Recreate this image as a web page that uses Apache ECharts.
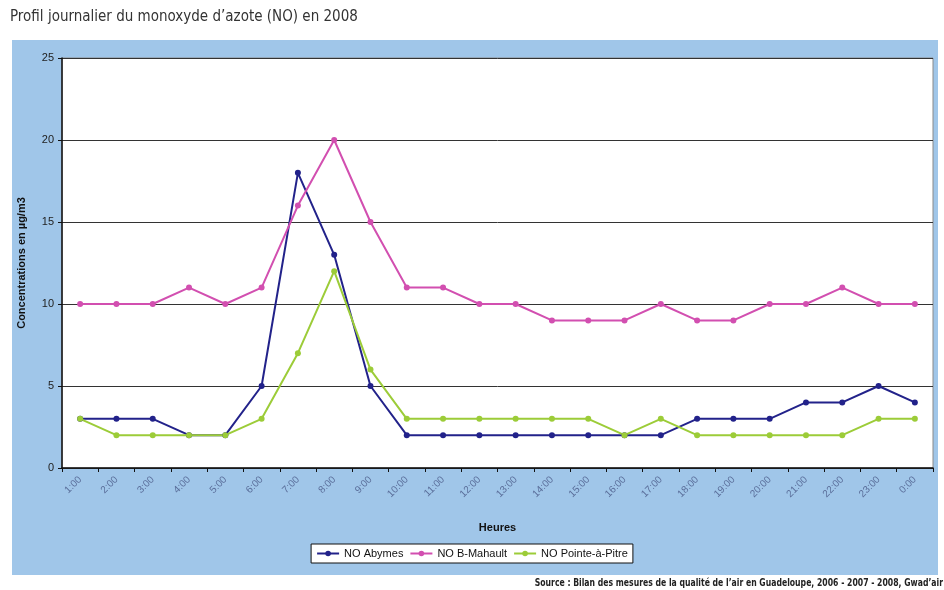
<!DOCTYPE html>
<html>
<head>
<meta charset="utf-8">
<script src="https://cdn.jsdelivr.net/npm/echarts@6/dist/echarts.min.js"></script>
<style>
  html, body { margin: 0; padding: 0; background: #fff; }
  #chart { width: 944px; height: 590px; }
</style>
</head>
<body>
<div id="chart"></div>
<script>
var hours = ['1:00', '2:00', '3:00', '4:00', '5:00', '6:00', '7:00', '8:00', '9:00', '10:00', '11:00', '12:00',
    '13:00', '14:00', '15:00', '16:00', '17:00', '18:00', '19:00', '20:00', '21:00', '22:00', '23:00', '0:00'];
var abymes = [3, 3, 3, 2, 2, 5, 18, 13, 5, 2, 2, 2, 2, 2, 2, 2, 2, 3, 3, 3, 4, 4, 5, 4];
var bMahault = [10, 10, 10, 11, 10, 11, 16, 20, 15, 11, 11, 10, 10, 9, 9, 9, 10, 9, 9, 10, 10, 11, 10, 10];
var pointeAPitre = [3, 2, 2, 2, 2, 3, 7, 12, 6, 3, 3, 3, 3, 3, 3, 2, 3, 2, 2, 2, 2, 2, 3, 3];
var yTicks = [0, 5, 10, 15, 20, 25];

var narrow = "'Liberation Sans Narrow', 'DejaVu Sans Condensed', 'Liberation Sans', sans-serif";
var plain = "'Liberation Sans', Arial, sans-serif";

function line(name, data, color) {
    return {
        name: name,
        type: 'line',
        data: data,
        symbol: 'circle',
        symbolSize: 6,
        color: color,
        lineStyle: { width: 2, color: color },
        itemStyle: { color: color }
    };
}

var chart = echarts.init(document.getElementById('chart'));
chart.setOption({
    animation: false,
    backgroundColor: '#fff',
    graphic: [
        { type: 'rect', z: -10, shape: { x: 12, y: 40, width: 926, height: 535 }, style: { fill: '#a0c6e9' } },
        { type: 'text', left: 10, top: 10, style: { text: 'Profil journalier du monoxyde d\u2019azote (NO) en 2008',
            font: '15px ' + narrow, fill: '#333' } },
        { type: 'text', x: 943, y: 578, scaleX: 0.78, originX: 0, style: {
            text: 'Source : Bilan des mesures de la qualit\u00e9 de l\u2019air en Guadeloupe, 2006 - 2007 - 2008, Gwad\u2019air',
            font: 'bold 11px ' + narrow, fill: '#222', align: 'right' } }
    ],
    grid: {
        left: 62, right: 11, top: 58, bottom: 122,
        show: true, backgroundColor: '#fff', borderColor: '#8a8a8a', borderWidth: 1
    },
    legend: {
        bottom: 27,
        left: 'center',
        backgroundColor: '#fff',
        borderColor: '#111',
        borderWidth: 1,
        borderRadius: 0,
        padding: [4, 5],
        itemGap: 6,
        itemWidth: 22,
        itemHeight: 7,
        textStyle: { fontFamily: plain, fontSize: 11, color: '#111' }
    },
    xAxis: {
        type: 'category',
        data: hours,
        boundaryGap: true,
        name: 'Heures',
        nameLocation: 'middle',
        nameGap: 54,
        nameTextStyle: { fontFamily: plain, fontWeight: 'bold', fontSize: 11, color: '#111' },
        axisLine: { lineStyle: { color: '#111', width: 1.5 } },
        axisTick: { show: true, interval: 0, length: 4, lineStyle: { color: '#111' } },
        axisLabel: { interval: 0, rotate: 45, fontSize: 10, color: '#5a6e9a', margin: 10, fontFamily: plain },
        splitLine: { show: false }
    },
    yAxis: {
        type: 'value',
        min: yTicks[0],
        max: yTicks[yTicks.length - 1],
        interval: 5,
        name: 'Concentrations en \u00b5g/m3',
        nameLocation: 'middle',
        nameGap: 35,
        nameTextStyle: { fontFamily: plain, fontWeight: 'bold', fontSize: 11, color: '#111' },
        axisLine: { show: true, lineStyle: { color: '#111', width: 1.5 } },
        axisTick: { show: true, length: 4, lineStyle: { color: '#111' } },
        axisLabel: { fontSize: 11, color: '#222', margin: 8, fontFamily: plain },
        splitLine: { lineStyle: { color: '#333', width: 1 } }
    },
    series: [
        line('NO Abymes', abymes, '#22228a'),
        line('NO B-Mahault', bMahault, '#d24fb0'),
        line('NO Pointe-\u00e0-Pitre', pointeAPitre, '#9ccc38')
    ]
});
</script>
</body>
</html>
